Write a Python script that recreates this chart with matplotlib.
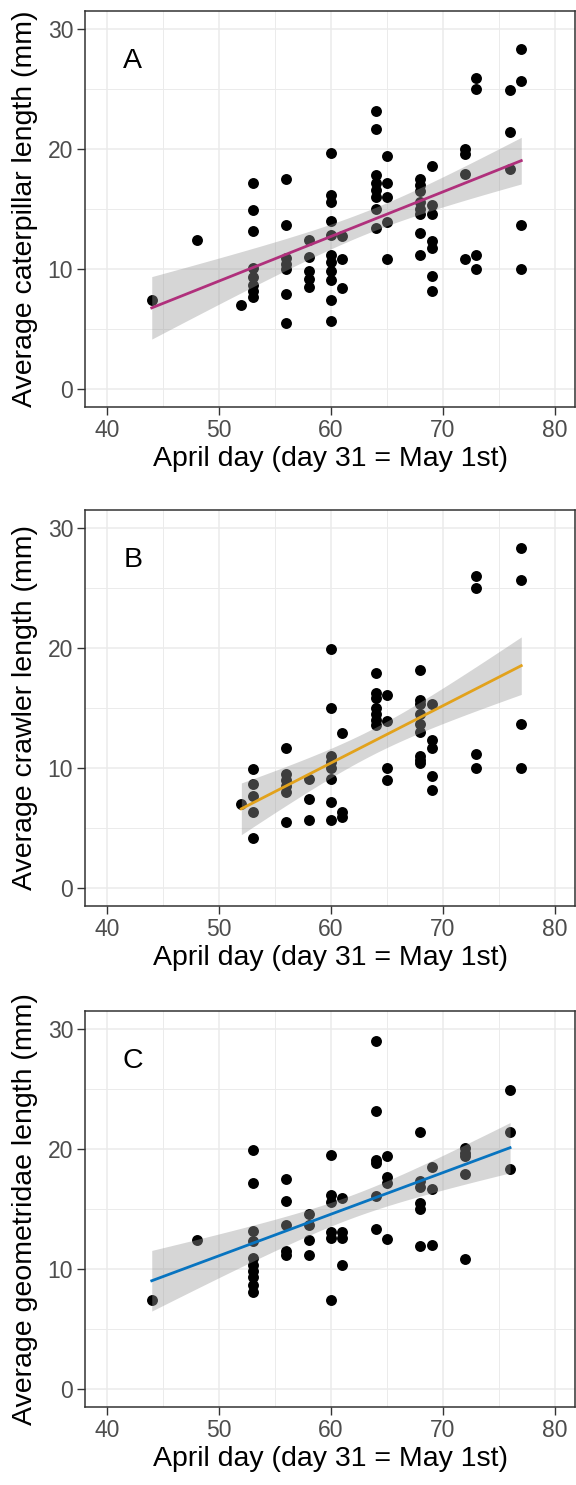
import numpy as np
import matplotlib
matplotlib.use("Agg")
import matplotlib.pyplot as plt
from matplotlib.ticker import MultipleLocator

plt.rcParams['font.family'] = ['Liberation Sans', 'DejaVu Sans']

# panel A - all caterpillars
cat_day = [44, 48, 52,
           53, 53, 53, 53, 53, 53, 53, 53,
           56, 56, 56, 56, 56, 56, 56,
           58, 58, 58, 58, 58,
           60, 60, 60, 60, 60, 60, 60, 60, 60, 60, 60,
           61, 61, 61,
           64, 64, 64, 64, 64, 64, 64, 64,
           65, 65, 65, 65, 65,
           68, 68, 68, 68, 68, 68, 68, 68,
           69, 69, 69, 69, 69, 69, 69,
           72, 72, 72, 72,
           73, 73, 73, 73,
           76, 76, 76,
           77, 77, 77, 77]
cat_len = [7.4, 12.4, 7.0,
           17.2, 14.9, 13.2, 10.1, 9.3, 8.7, 8.2, 7.7,
           17.5, 13.7, 10.9, 10.4, 10.0, 7.9, 5.5,
           12.4, 11.0, 9.8, 9.2, 8.5,
           19.7, 16.2, 15.6, 14.0, 12.8, 11.2, 10.6, 9.8, 9.1, 7.4, 5.7,
           12.75, 10.8, 8.4,
           23.2, 21.7, 17.8, 17.2, 16.6, 16.0, 15.0, 13.4,
           19.4, 17.2, 16.0, 13.9, 10.8,
           17.5, 17.0, 16.5, 15.6, 15.0, 14.6, 13.0, 11.2,
           18.6, 15.3, 14.6, 12.3, 11.75, 9.4, 8.2,
           20.0, 19.6, 17.9, 10.8,
           25.9, 25.0, 11.2, 10.0,
           24.9, 21.4, 18.3,
           28.3, 25.7, 13.7, 10.0]

# panel B - crawlers
crw_day = [52,
           53, 53, 53, 53, 53,
           56, 56, 56, 56, 56, 56,
           58, 58, 58,
           60, 60, 60, 60, 60, 60, 60, 60,
           61, 61, 61,
           64, 64, 64, 64, 64, 64, 64,
           65, 65, 65, 65,
           68, 68, 68, 68, 68, 68, 68, 68, 68,
           69, 69, 69, 69, 69,
           73, 73, 73, 73,
           77, 77, 77, 77]
crw_len = [7.0,
           9.9, 8.7, 7.7, 6.3, 4.2,
           11.7, 9.5, 9.0, 8.5, 8.0, 5.5,
           9.1, 7.4, 5.7,
           19.9, 15.0, 11.0, 10.5, 10.0, 9.1, 7.2, 5.7,
           12.9, 6.3, 5.9,
           17.9, 16.25, 15.8, 15.0, 14.5, 14.0, 13.6,
           16.1, 13.9, 10.0, 9.0,
           18.2, 15.7, 15.3, 14.5, 13.7, 13.0, 11.0, 10.7, 10.4,
           15.3, 12.3, 11.7, 9.35, 8.2,
           26.0, 25.0, 11.2, 10.0,
           28.3, 25.7, 13.7, 10.0]

# panel C - geometridae
geo_day = [44, 48,
           53, 53, 53, 53, 53, 53, 53, 53, 53, 53,
           56, 56, 56, 56, 56,
           58, 58, 58, 58,
           60, 60, 60, 60, 60, 60,
           61, 61, 61, 61,
           64, 64, 64, 64, 64, 64,
           65, 65, 65, 65,
           68, 68, 68, 68, 68, 68,
           69, 69, 69,
           72, 72, 72, 72, 72,
           76, 76, 76]
geo_len = [7.4, 12.4,
           19.9, 17.2, 13.2, 12.3, 10.9, 10.3, 9.8, 9.3, 8.7, 8.1,
           17.5, 15.7, 13.7, 11.5, 11.2,
           14.6, 13.7, 12.4, 11.2,
           19.5, 16.2, 15.6, 13.1, 12.6, 7.4,
           15.9, 13.1, 12.6, 10.3,
           29.0, 23.2, 19.1, 18.8, 16.1, 13.3,
           19.4, 17.7, 17.2, 12.5,
           21.4, 17.3, 16.8, 15.5, 15.0, 11.9,
           18.5, 16.7, 12.0,
           20.1, 19.7, 19.4, 17.9, 10.8,
           24.9, 21.4, 18.3]

panels = [("A", "Average caterpillar length (mm)", cat_day, cat_len, "#b0307c"),
          ("B", "Average crawler length (mm)", crw_day, crw_len, "#e2a21c"),
          ("C", "Average geometridae length (mm)", geo_day, geo_len, "#0874c0")]

fig = plt.figure(figsize=(5.76, 14.85), dpi=100)
bottoms = [0.7259, 0.3899, 0.0525]

for (letter, ylab, xd, yd, col), b in zip(panels, bottoms):
    ax = fig.add_axes([0.1476, b, 0.8507, 0.2667])
    x = np.array(xd, float)
    y = np.array(yd, float)

    ax.scatter(x, y, s=62, color="black", linewidths=0, zorder=3)

    # lm fit with 95% band (like geom_smooth(method = "lm"))
    n = len(x)
    slope, icpt = np.polyfit(x, y, 1)
    resid = y - (icpt + slope * x)
    s = np.sqrt(np.sum(resid ** 2) / (n - 2))
    xs = np.linspace(x.min(), x.max(), 80)
    se = s * np.sqrt(1.0 / n + (xs - x.mean()) ** 2 / np.sum((x - x.mean()) ** 2))
    fit = icpt + slope * xs
    ax.fill_between(xs, fit - 1.99 * se, fit + 1.99 * se, color="#999999",
                    alpha=0.4, linewidth=0, zorder=4)
    ax.plot(xs, fit, color=col, linewidth=2.0, zorder=5)

    ax.text(42.3, 27.3, letter, fontsize=20.5, ha="center", va="center", zorder=6)

    ax.set_xlim(38.04, 81.8)
    ax.set_ylim(-1.5, 31.5)
    ax.xaxis.set_major_locator(MultipleLocator(10))
    ax.xaxis.set_minor_locator(MultipleLocator(5))
    ax.yaxis.set_major_locator(MultipleLocator(10))
    ax.yaxis.set_minor_locator(MultipleLocator(5))
    ax.grid(True, which="major", color="#ebebeb", linewidth=1.1, zorder=0)
    ax.grid(True, which="minor", color="#ebebeb", linewidth=0.7, zorder=0)
    ax.set_axisbelow(True)
    for sp in ax.spines.values():
        sp.set_color("#333333")
        sp.set_linewidth(1.1)
    ax.tick_params(which="major", length=5.5, width=1.0, color="#333333",
                   labelsize=16.5, labelcolor="#4d4d4d", pad=3)
    ax.tick_params(which="minor", length=0)
    ax.set_xlabel("April day (day 31 = May 1st)", fontsize=20.5, labelpad=3)
    ax.set_ylabel(ylab, fontsize=20.5, labelpad=7)

fig.savefig("out.png", dpi=100)
